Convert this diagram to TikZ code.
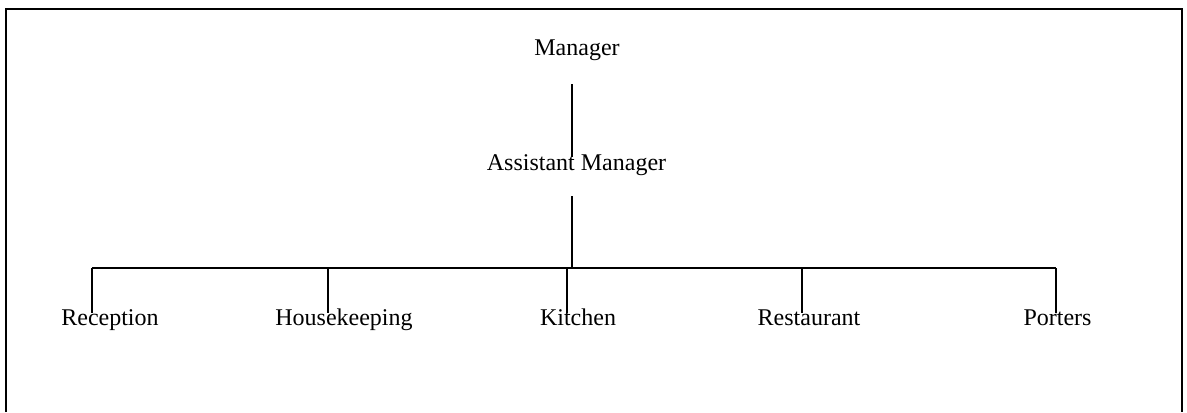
\documentclass[tikz,border=0pt]{standalone}
\usepackage{fontspec}
\setmainfont{Liberation Serif}
\begin{document}
\begin{tikzpicture}[x=0.5pt,y=-0.5pt,
  rule/.style={line width=1pt,black},
  lbl/.style={inner sep=0pt,anchor=base,font=\fontsize{12}{14}\selectfont}]
\useasboundingbox (0,0) rectangle (1187,412);

% outer frame (open at the bottom edge of the page)
\draw[rule] (6,412) -- (6,9) -- (1182,9) -- (1182,412);

% titles
\node[lbl] (mgr) at (577,55) {Manager};
\node[lbl] (asst) at (576.5,170) {Assistant Manager};

% departments
\node[lbl] (rec) at (110,325) {Reception};
\node[lbl] (hk) at (344,325) {Housekeeping};
\node[lbl] (kit) at (578,325) {Kitchen};
\node[lbl] (rest) at (809,325) {Restaurant};
\node[lbl] (port) at (1057.5,325) {Porters};

% connector end points
\coordinate (mgrA) at (572,84);
\coordinate (mgrB) at (572,157);
\coordinate (asstA) at (572,196);
\coordinate (asstB) at (572,268);
\coordinate (busL) at (92,268);
\coordinate (busR) at (1056,268);
\coordinate (recT) at (92,268);
\coordinate (recB) at (92,313);
\coordinate (hkT) at (328,268);
\coordinate (hkB) at (328,313);
\coordinate (kitT) at (567,268);
\coordinate (kitB) at (567,313);
\coordinate (restT) at (802,268);
\coordinate (restB) at (802,313);
\coordinate (portT) at (1056,268);
\coordinate (portB) at (1056,313);

% tree lines
\draw[rule] (mgrA) -- (mgrB);
\draw[rule] (asstA) -- (asstB);
\draw[rule] (busL) -- (busR);
\draw[rule] (recT) -- (recB);
\draw[rule] (hkT) -- (hkB);
\draw[rule] (kitT) -- (kitB);
\draw[rule] (restT) -- (restB);
\draw[rule] (portT) -- (portB);
\end{tikzpicture}
\end{document}
